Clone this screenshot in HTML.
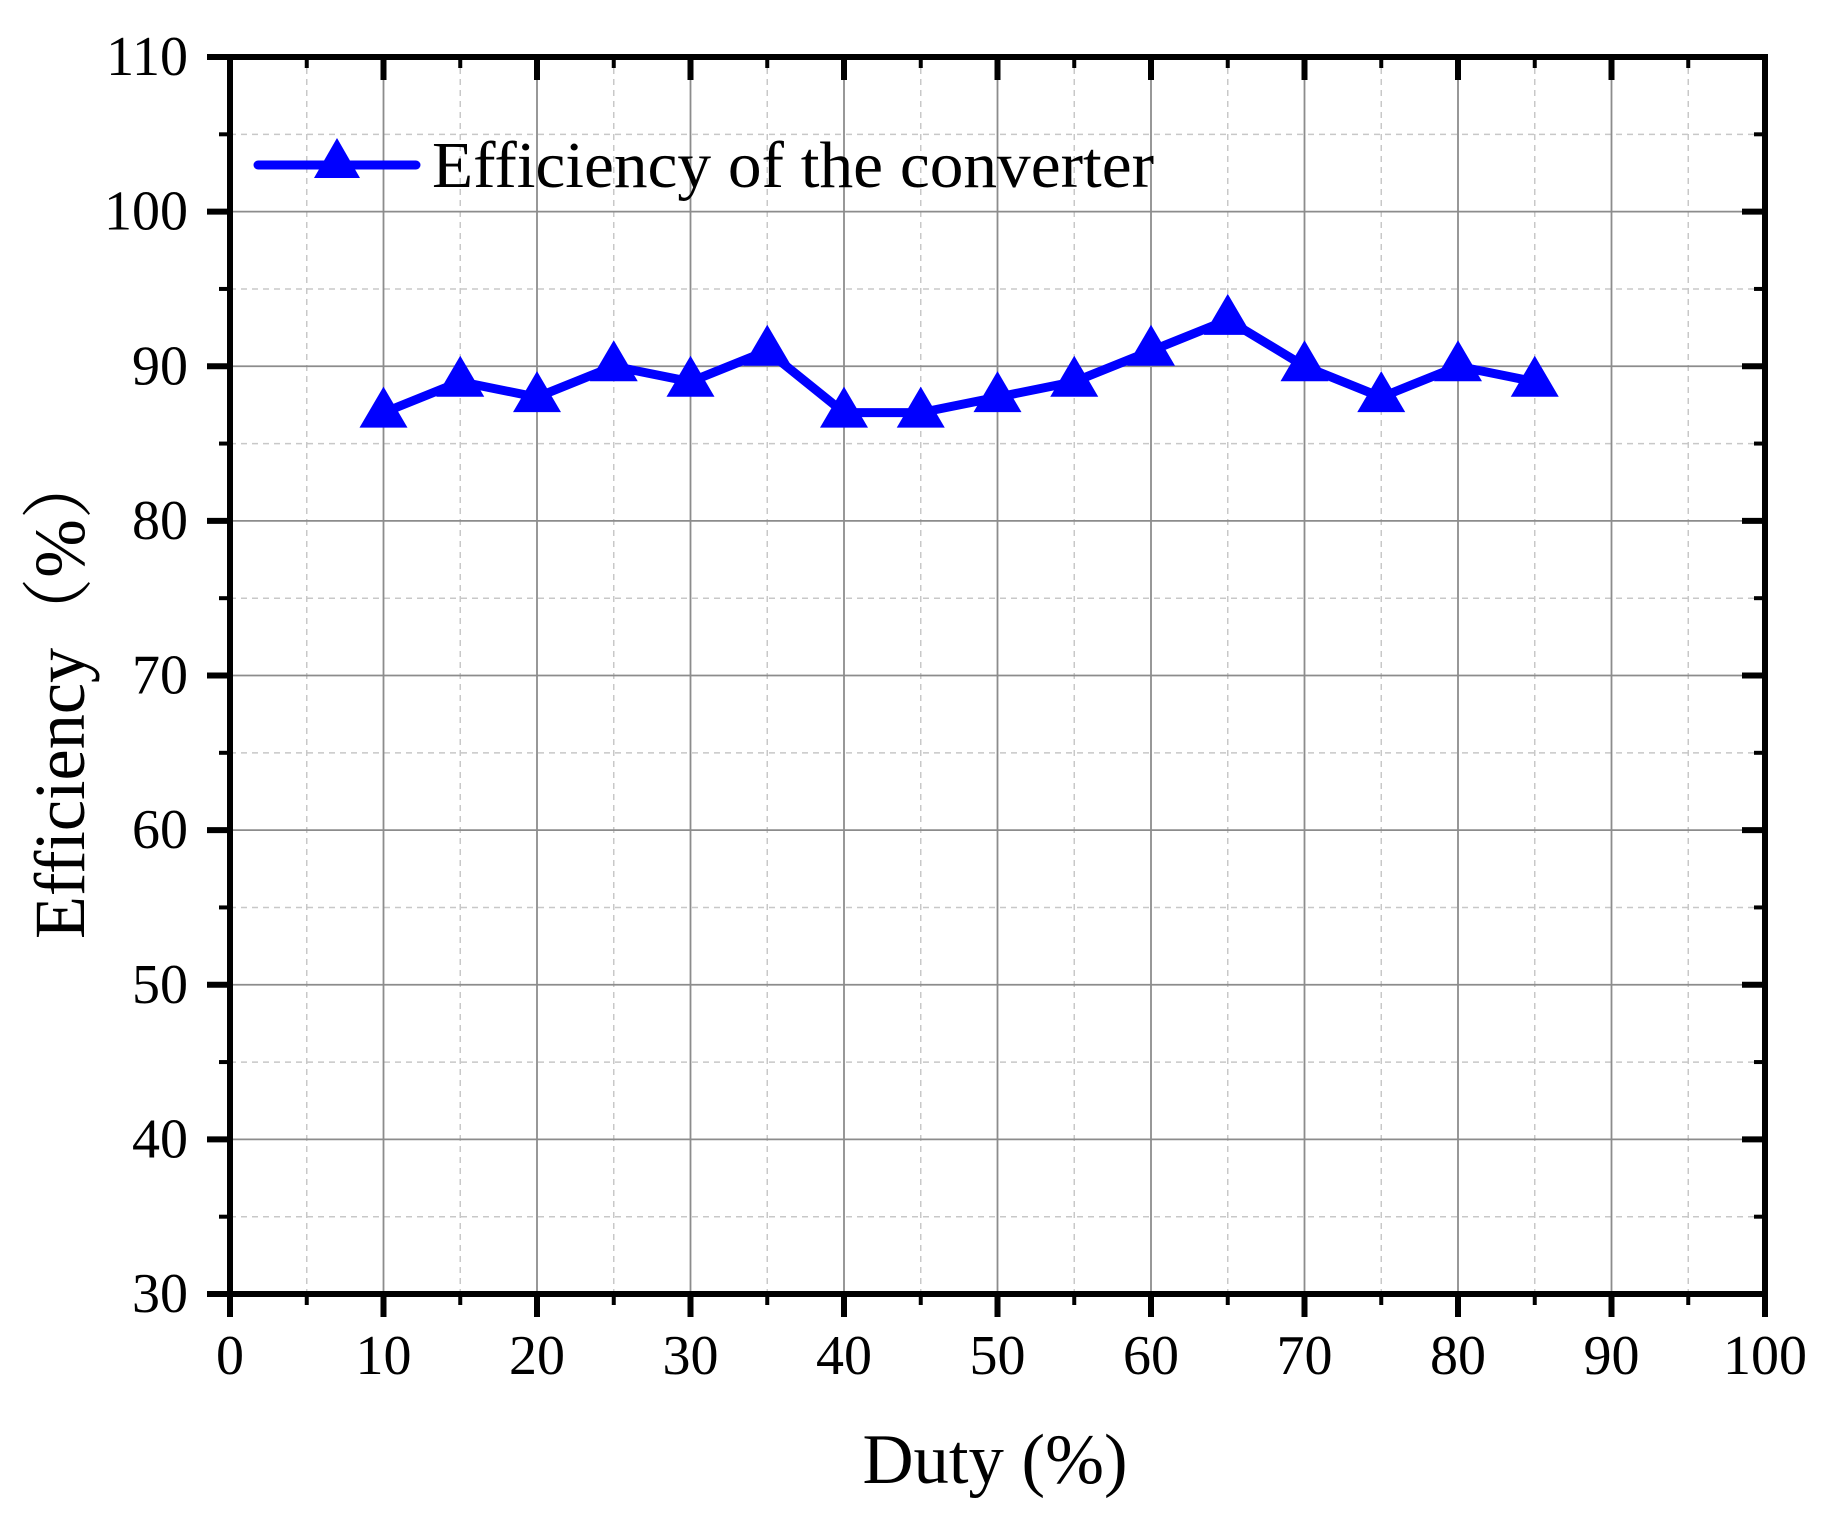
<!DOCTYPE html>
<html><head><meta charset="utf-8"><style>
html,body{margin:0;padding:0;background:#fff;}
svg text{font-family:"Liberation Serif","Noto Serif CJK SC",serif;fill:#000;}
</style></head><body>
<svg id="chart" width="1822" height="1524" viewBox="0 0 1822 1524" xmlns="http://www.w3.org/2000/svg">
<g id="grid"></g>
<g id="series"></g>
<g id="axes"></g>
<g id="legend">
  <line x1="258" y1="165" x2="416" y2="165" stroke="#0000ff" stroke-width="9" stroke-linecap="round"/>
  <polygon points="337,138 314,178 360,178" fill="#0000ff"/>
  <text x="432" y="187" font-size="66" textLength="722" lengthAdjust="spacingAndGlyphs">Efficiency of the converter</text>
</g>
<text x="995" y="1483" font-size="71" text-anchor="middle" textLength="265" lengthAdjust="spacingAndGlyphs">Duty (%)</text>
<text transform="translate(84,694) rotate(-90)" font-size="72" text-anchor="middle" textLength="490" lengthAdjust="spacingAndGlyphs">Efficiency（%）</text>
</svg>
<script>
const duty = [10,15,20,25,30,35,40,45,50,55,60,65,70,75,80,85];
const efficiency = [87,89,88,90,89,91,87,87,88,89,91,93,90,88,90,89];
const xTicks = [0,10,20,30,40,50,60,70,80,90,100];
const yTicks = [30,40,50,60,70,80,90,100,110];

const X0=230, X1=1765, Y0=1294, Y1=57;
const xs = v => X0 + (v-0)/(100-0)*(X1-X0);
const ys = v => Y0 - (v-30)/(110-30)*(Y0-Y1);
const NS="http://www.w3.org/2000/svg";
function mk(tag, attrs, parent){const e=document.createElementNS(NS,tag);for(const k in attrs)e.setAttribute(k,attrs[k]);parent.appendChild(e);return e;}
const grid=document.getElementById('grid'), axes=document.getElementById('axes'), series=document.getElementById('series');

for(let v=5; v<100; v+=10){
  const l=mk('line',{x1:xs(v),x2:xs(v),y1:Y1,y2:Y0,stroke:'#c8c8c8','stroke-width':1.5,'stroke-dasharray':'6,5'},grid);
  
  
}
for(let v=35; v<110; v+=10){
  const l=mk('line',{x1:X0,x2:X1,y1:ys(v),y2:ys(v),stroke:'#c8c8c8','stroke-width':1.5,'stroke-dasharray':'6,5'},grid);
  
  
}
xTicks.forEach(v=>{ if(v>0&&v<100){
  const l=mk('line',{x1:xs(v),x2:xs(v),y1:Y1,y2:Y0,stroke:'#8c8c8c','stroke-width':1.8},grid);
  
  
}});
yTicks.forEach(v=>{ if(v>30&&v<110){
  const l=mk('line',{x1:X0,x2:X1,y1:ys(v),y2:ys(v),stroke:'#8c8c8c','stroke-width':1.8},grid);
  
  
}});

const pts=duty.map((d,i)=>xs(d)+','+ys(efficiency[i])).join(' ');
const pl=mk('polyline',{points:pts,fill:'none',stroke:'#0000ff','stroke-width':9,'stroke-linejoin':'round'},series);


duty.forEach((d,i)=>{
  const cx=xs(d), cy=ys(efficiency[i]);
  const t=mk('polygon',{points:`${cx},${cy-26} ${cx-24},${cy+15} ${cx+24},${cy+15}`,fill:'#0000ff'},series);
  
  
});

const fr=mk('rect',{x:X0,y:Y1,width:X1-X0,height:Y0-Y1,fill:'none',stroke:'#000','stroke-width':6},axes);



for(let v=0; v<=100; v+=5){
  const major=v%10===0, len=major?23:11, w=major?6:4;
  const b=mk('line',{x1:xs(v),x2:xs(v),y1:Y0,y2:Y0+len,stroke:'#000','stroke-width':w},axes);
  
  
  const t=mk('line',{x1:xs(v),x2:xs(v),y1:Y1,y2:Y1+len,stroke:'#000','stroke-width':w},axes);
  
  
}
xTicks.forEach(v=>{
  const t=mk('text',{x:xs(v),y:1374,'font-size':56,'text-anchor':'middle'},axes);
  t.textContent=v;
  
  
});
for(let v=30; v<=110; v+=5){
  const major=v%10===0, len=major?23:11, w=major?6:4;
  const l=mk('line',{x1:X0-len,x2:X0,y1:ys(v),y2:ys(v),stroke:'#000','stroke-width':w},axes);
  
  
  const r=mk('line',{x1:X1-len,x2:X1,y1:ys(v),y2:ys(v),stroke:'#000','stroke-width':w},axes);
  
  
}
yTicks.forEach(v=>{
  const t=mk('text',{x:188,y:ys(v)+18,'font-size':56,'text-anchor':'end'},axes);
  t.textContent=v;
  
  
});
</script>
</body></html>
